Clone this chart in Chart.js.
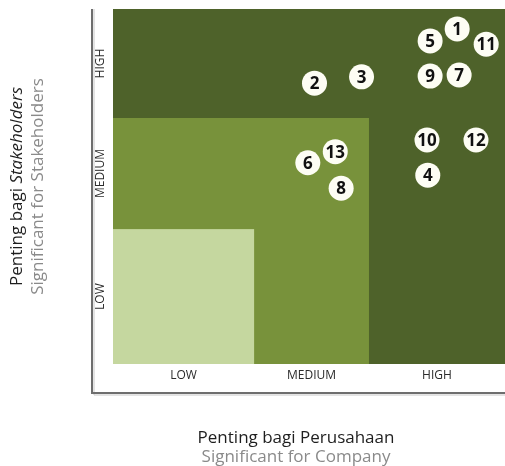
<!DOCTYPE html>
<html>
<head>
<meta charset="utf-8">
<script src="https://cdn.jsdelivr.net/npm/chart.js@4.4.1/dist/chart.umd.min.js"></script>
<style>
  html, body { margin: 0; padding: 0; background: #fff; overflow: hidden; }
  canvas { display: block; }
</style>
</head>
<body>
<canvas id="matrix" width="505" height="466"></canvas>
<script>
// tick labels for both axes
const levelLabels = ['LOW', 'MEDIUM', 'HIGH'];
// band edges on a 0-100 scale (company axis / stakeholder axis)
const xEdges = [0, 36, 65.3, 100];
const yEdges = [0, 38, 69.3, 100];

// materiality topics
const topicIds = ['1', '2', '3', '4', '5', '6', '7', '8', '9', '10', '11', '12', '13'];
const companyScore = [87.8, 51.4, 63.4, 80.3, 80.9, 49.7, 88.3, 58.2, 80.9, 80.1, 95.2, 92.6, 56.7];
const stakeholderScore = [94.4, 79.1, 80.9, 53.2, 91.0, 56.7, 81.4, 49.5, 81.1, 63.1, 90.1, 63.1, 59.8];

// zones: upper band index on each axis, drawn from largest to smallest
const zones = [
    { x: 3, y: 3, color: '#4e622a' },
    { x: 2, y: 2, color: '#78923b' },
    { x: 1, y: 1, color: '#c5d79f' }
];

const FONT = '"Open Sans", "Noto Sans", sans-serif';
const TITLE = '17px ' + FONT;

const matrixPlugin = {
    id: 'matrixPlugin',
    beforeDatasetsDraw(chart) {
        const { ctx, chartArea, scales: { x, y } } = chart;
        ctx.save();
        zones.forEach(z => {
            const left = x.getPixelForValue(xEdges[0]);
            const right = x.getPixelForValue(xEdges[z.x]);
            const top = y.getPixelForValue(yEdges[z.y]);
            const bottom = y.getPixelForValue(yEdges[0]);
            ctx.fillStyle = z.color;
            ctx.fillRect(left, top, right - left, bottom - top);
        });

        // axis frame
        const axL = chartArea.left - 21;
        const axB = chartArea.bottom + 29;
        ctx.strokeStyle = '#c8c8c8';
        ctx.lineWidth = 1;
        ctx.beginPath();
        ctx.moveTo(axL + 2, chartArea.top);
        ctx.lineTo(axL + 2, axB + 2);
        ctx.lineTo(chart.width, axB + 2);
        ctx.stroke();
        ctx.strokeStyle = '#6e6e6e';
        ctx.lineWidth = 2;
        ctx.beginPath();
        ctx.moveTo(axL, chartArea.top);
        ctx.lineTo(axL, axB);
        ctx.lineTo(chart.width, axB);
        ctx.stroke();

        // tick labels at band centres
        ctx.fillStyle = '#2b2b2b';
        ctx.font = '12px ' + FONT;
        ctx.textAlign = 'center';
        ctx.textBaseline = 'middle';
        levelLabels.forEach((lbl, i) => {
            const cx = x.getPixelForValue((xEdges[i] + xEdges[i + 1]) / 2);
            ctx.fillText(lbl, cx, chartArea.bottom + 12);
            const cy = y.getPixelForValue((yEdges[i] + yEdges[i + 1]) / 2);
            ctx.save();
            ctx.translate(chartArea.left - 12, cy);
            ctx.rotate(-Math.PI / 2);
            ctx.fillText(lbl, 0, 0);
            ctx.restore();
        });

        // axis titles
        ctx.font = TITLE;
        ctx.fillStyle = '#1e1e1e';
        ctx.fillText('Penting bagi Perusahaan', 296, 438);
        ctx.fillStyle = '#8a8a8a';
        ctx.fillText('Significant for Company', 296, 457);

        const midY = (chartArea.top + chartArea.bottom) / 2;
        ctx.save();
        ctx.translate(17, midY);
        ctx.rotate(-Math.PI / 2);
        const p1 = 'Penting bagi ';
        const p2 = 'Stakeholders';
        ctx.font = TITLE;
        const w1 = ctx.measureText(p1).width;
        ctx.font = 'italic ' + TITLE;
        const w2 = ctx.measureText(p2).width;
        ctx.textAlign = 'left';
        ctx.fillStyle = '#1e1e1e';
        ctx.font = TITLE;
        ctx.fillText(p1, -(w1 + w2) / 2, 0);
        ctx.font = 'italic ' + TITLE;
        ctx.fillText(p2, -(w1 + w2) / 2 + w1, 0);
        ctx.restore();

        ctx.save();
        ctx.translate(38, midY);
        ctx.rotate(-Math.PI / 2);
        ctx.font = TITLE;
        ctx.fillStyle = '#8a8a8a';
        ctx.textAlign = 'center';
        ctx.fillText('Significant for Stakeholders', 0, 0);
        ctx.restore();
        ctx.restore();
    },
    afterDatasetsDraw(chart) {
        const { ctx } = chart;
        const meta = chart.getDatasetMeta(0);
        ctx.save();
        ctx.fillStyle = '#111';
        ctx.font = 'bold 17px ' + FONT;
        ctx.textAlign = 'center';
        ctx.textBaseline = 'middle';
        meta.data.forEach((pt, i) => {
            ctx.fillText(topicIds[i], pt.x, pt.y + 1);
        });
        ctx.restore();
    }
};

new Chart(document.getElementById('matrix'), {
    type: 'scatter',
    data: {
        datasets: [{
            data: companyScore.map((v, i) => ({ x: v, y: stakeholderScore[i] })),
            backgroundColor: '#fdfdf4',
            borderWidth: 0,
            pointRadius: 12.5,
            pointHoverRadius: 12.5,
            clip: false
        }]
    },
    options: {
        responsive: false,
        animation: false,
        layout: { autoPadding: false, padding: { left: 113, top: 9, right: 0, bottom: 102 } },
        scales: {
            x: { type: 'linear', min: 0, max: 100, display: false },
            y: { type: 'linear', min: 0, max: 100, display: false }
        },
        plugins: {
            legend: { display: false },
            tooltip: { enabled: false }
        }
    },
    plugins: [matrixPlugin]
});
</script>
</body>
</html>
